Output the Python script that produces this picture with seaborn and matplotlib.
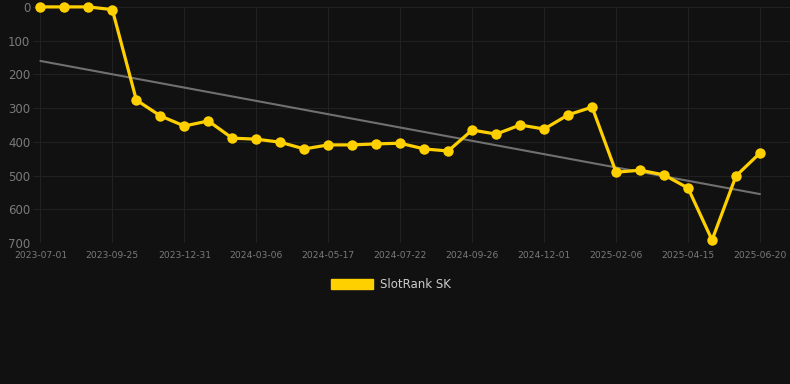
import numpy as np
import pandas as pd
import matplotlib
matplotlib.use("Agg")
import matplotlib.pyplot as plt
from matplotlib.patches import Patch
import seaborn as sns

# Rank values (one point per period, evenly spaced)
rank = [0, 0, 0, 8, 276, 323, 353, 338, 389, 392, 401, 421, 409, 409, 406, 404,
        421, 427, 365, 377, 350, 362, 320, 297, 490, 484, 498, 537, 691, 501, 433]
tick_labels = ["2023-07-01", "2023-09-25", "2023-12-31", "2024-03-06", "2024-05-17",
               "2024-07-22", "2024-09-26", "2024-12-01", "2025-02-06", "2025-04-15",
               "2025-06-20"]
series_name = "SlotRank SK"

df = pd.DataFrame({"idx": np.arange(len(rank)), "rank": rank})

bg = "#111111"
grid_c = "#212121"
text_c = "#7a7a7a"
gold = "#FFD000"

sns.set_theme(style="dark", rc={
    "axes.facecolor": bg,
    "figure.facecolor": bg,
    "axes.edgecolor": bg,
    "grid.color": grid_c,
})
plt.rcParams["font.family"] = ["DejaVu Sans"]

fig = plt.figure(figsize=(7.9, 3.84), dpi=100)
ax = fig.add_axes([0.042, 0.367, 0.958, 0.615])

# trend line from a linear fit
coef = np.polyfit(df["idx"], df["rank"], 1)
trend = np.polyval(coef, df["idx"])
ax.plot(df["idx"], trend, color="#707070", lw=1.5, zorder=2)

sns.lineplot(data=df, x="idx", y="rank", ax=ax, color=gold, lw=2.3,
             marker="o", markersize=7.5, markeredgewidth=0, label=series_name,
             zorder=3, clip_on=False)

ax.set_ylim(700, 0)
ax.set_xlim(-0.3, 31.25)
ax.set_yticks(range(0, 701, 100))
ax.set_xticks(range(0, len(rank), 3))
ax.set_xticklabels(tick_labels)
ax.grid(True, color=grid_c, lw=0.8)
ax.tick_params(axis="y", length=0, labelsize=8.5, colors=text_c, pad=2)
ax.tick_params(axis="x", length=4, width=0.8, color=grid_c, labelsize=6.6, colors=text_c, pad=2)
ax.set_xlabel("")
ax.set_ylabel("")
for s in ax.spines.values():
    s.set_visible(False)

ax.legend_.remove()
fig.legend(handles=[Patch(facecolor=gold, edgecolor=gold, label=series_name)],
           loc="center", bbox_to_anchor=(0.495, 0.258), frameon=False,
           fontsize=8.5, labelcolor="#cccccc", handlelength=3.6, handleheight=0.9,
           handletextpad=0.6)

fig.savefig("out.png", dpi=100, facecolor=bg)
